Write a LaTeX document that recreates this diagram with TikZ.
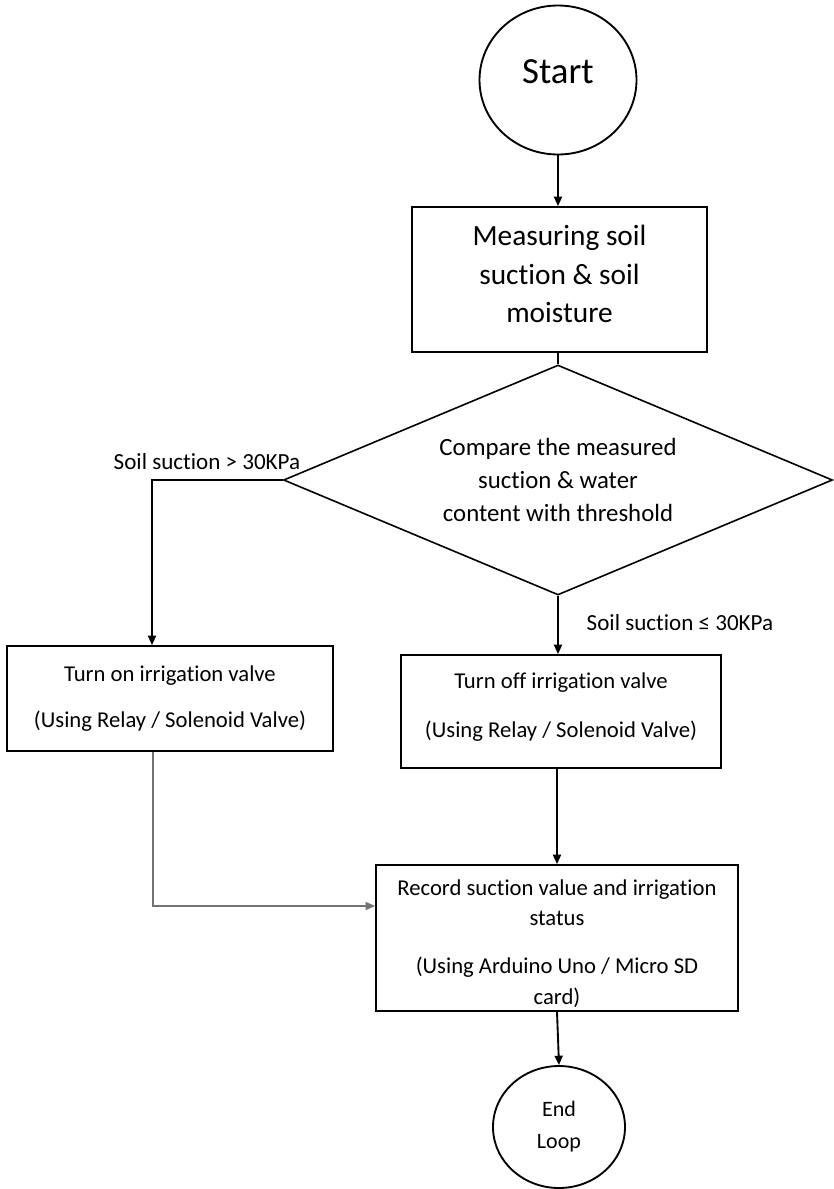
\documentclass[tikz,border=0pt]{standalone}
\usepackage{fontspec}
\setmainfont{Carlito}[Ligatures=NoCommon]
\usetikzlibrary{arrows.meta,shapes.geometric}

\tikzset{every picture/.style={line width=1.4pt}}
\tikzset{
  termnode/.style={draw, ellipse, inner sep=0pt, align=center},
  procbox/.style={draw, rectangle, inner sep=0pt, align=center, font=\fontsize{17}{21}\selectfont},
  decnode/.style={draw, diamond, aspect=2.4, inner sep=0pt, align=center, line width=1.2pt},
  condlabel/.style={inner sep=0.75pt, font=\fontsize{17.3}{21}\selectfont},
  flowarrow/.style={-{Triangle[length=7pt,width=6pt]}},
  flowthin/.style={-{Triangle[length=7pt,width=6pt]}, draw=black!55, line width=1pt}
}

\begin{document}
\begin{tikzpicture}[x=0.75pt,y=0.75pt,yscale=-1,xscale=1]
\useasboundingbox (0,0) rectangle (833,1189);

% Terminals
\node [termnode, minimum width=117.75pt, minimum height=111.75pt, text depth=12pt, font=\fontsize{27.6}{33}\selectfont] (start) at (558,80) {Start};
\node [termnode, minimum width=99pt, minimum height=91.5pt, font=\fontsize{16.5}{24}\selectfont] (endl) at (559,1127) {End\\Loop};

% Process boxes
\node [procbox, minimum width=221.25pt, minimum height=108.75pt, text depth=8pt, font=\fontsize{22}{28.9}\selectfont] (meas) at (559.5,279.5) {Measuring soil\\suction \& soil\\moisture};
\node [procbox, minimum width=244.5pt, minimum height=78.75pt] (on) at (170,698.5) {Turn on irrigation valve\\[14pt](Using Relay / Solenoid Valve)};
\node [procbox, minimum width=240pt, minimum height=84.75pt, text depth=10pt] (off) at (561,711.5) {Turn off irrigation valve\\[15.75pt](Using Relay / Solenoid Valve)};
\node [procbox, minimum width=271.5pt, minimum height=109.5pt, font=\fontsize{17}{23}\selectfont] (rec) at (557,938) {\rule{0pt}{20pt}Record suction value and irrigation\\status\\[13pt](Using Arduino Uno / Micro SD\\card)};

% Decision
\node [decnode, minimum width=411.75pt, minimum height=172.5pt, font=\fontsize{18.6}{24.4}\selectfont] (cmp) at (558,480) {Compare the measured\\suction \& water\\content with threshold};

% Condition labels
\node [condlabel] (gt) at (207,462) {Soil suction > 30KPa};
\node [condlabel] (le) at (680,623) {Soil suction ≤ 30KPa};

% Connectors
\draw [flowarrow] (start.south) -- (start.south |- meas.north);
\draw (cmp.north |- meas.south) -- (cmp.north);
\draw [flowarrow] (cmp.west) -| ([xshift=-13.5pt]on.north);
\draw [flowarrow] (cmp.south) -- (cmp.south |- off.north);
\draw [flowthin] ([xshift=-12.75pt]on.south) |- ([yshift=-24pt]rec.west);
\draw [flowarrow] (rec.north |- off.south) -- (rec.north);
\draw [flowarrow] (rec.south) -- (endl.north);

\end{tikzpicture}
\end{document}
